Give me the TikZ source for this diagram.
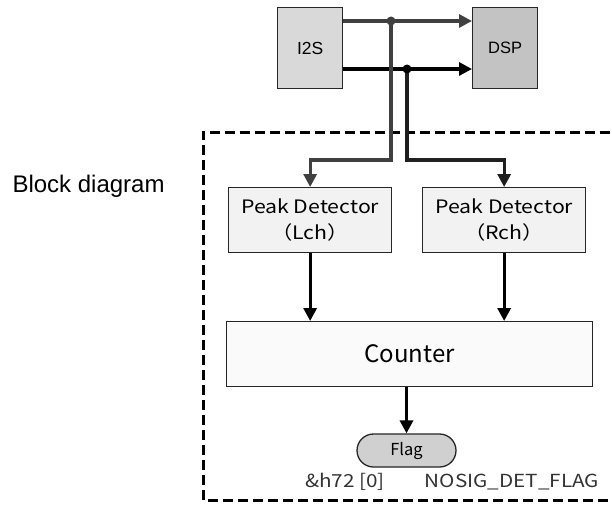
\documentclass[tikz,border=0pt]{standalone}
\usepackage{fontspec}
\setmainfont{Liberation Sans}
\newfontfamily\jpfont{Noto Sans CJK JP}
\newfontfamily\jpwide[FakeStretch=1.15]{Noto Sans CJK JP}
\usetikzlibrary{arrows.meta,shapes.misc}
\definecolor{boxline}{HTML}{262626}
\definecolor{i2sfill}{HTML}{D9D9D9}
\definecolor{dspfill}{HTML}{C3C3C3}
\definecolor{pkfill}{HTML}{F2F2F2}
\definecolor{cntfill}{HTML}{FAFAFA}
\definecolor{flagfill}{HTML}{D0D0D0}
\definecolor{graywire}{HTML}{404040}
\definecolor{txtgray}{HTML}{333333}
\tikzset{
  blk/.style={draw=boxline, line width=1.3pt, inner sep=0pt, anchor=north west},
  wire/.style={line width=3.2pt, -{Triangle[length=13pt,width=13pt]}},
  junction/.style={circle, fill, inner sep=0pt, minimum size=9pt},
}
\begin{document}
\begin{tikzpicture}[x=1pt,y=-1pt]
\useasboundingbox (0,0) rectangle (612,511);
\clip (0,0) rectangle (612,511);
% dashed frame
\draw[line width=3pt, dash pattern=on 10pt off 5pt] (640,132) -- (203,132) -- (203,500) -- (640,500);
% boxes
\node[blk, fill=i2sfill, minimum width=65pt, minimum height=81pt] (i2s) at (277,7) {};
\node[font=\fontsize{17.5}{20}\selectfont] at (i2s.center) {I2S};
\node[blk, fill=dspfill, minimum width=65pt, minimum height=81pt] (dsp) at (472,7) {};
\node[font=\fontsize{16.5}{20}\selectfont] at (dsp.center) {DSP};
\node[blk, fill=pkfill, minimum width=163pt, minimum height=65pt] (pkl) at (228,187) {};
\node[align=center, font=\jpwide\fontsize{18.5}{26}\selectfont] at (pkl.center) {Peak Detector\\（Lch）};
\node[blk, fill=pkfill, minimum width=163pt, minimum height=65pt] (pkr) at (422,187) {};
\node[align=center, font=\jpwide\fontsize{18.5}{26}\selectfont] at (pkr.center) {Peak Detector\\（Rch）};
\node[blk, fill=cntfill, minimum width=366pt, minimum height=65pt] (cnt) at (226,321) {};
\node[font=\jpfont\fontsize{24}{28}\selectfont] at (cnt.center) {Counter};
\node[draw=boxline, line width=1.3pt, fill=flagfill, rounded rectangle, minimum width=99pt, minimum height=33pt, inner sep=0pt,
      font=\jpfont\fontsize{16.5}{20}\selectfont] (flag) at (406.5,450.5) {Flag};
\node[text=txtgray, font=\jpwide\fontsize{18}{22}\selectfont] (addr) at (345,482) {\&h72 [0]};
\node[text=txtgray, font=\jpwide\fontsize{18}{22}\selectfont] (fname) at (512,482) {NOSIG\_DET\_FLAG};
\node[anchor=west, font=\fontsize{24}{28}\selectfont] (title) at (9,186) {Block diagram};
% coordinates
\coordinate (jL) at (391,21);
\coordinate (jR) at (407,69);
\coordinate (bL) at (391,160);
\coordinate (bR) at (407,160);
% I2S -> DSP
\draw[wire, graywire] (i2s.east |- jL) -- (dsp.west |- jL);
\draw[wire, black] (i2s.east |- jR) -- (dsp.west |- jR);
% taps
\draw[wire, graywire] (jL) -- (bL) -| (pkl.north);
\draw[wire, black!88] (jR) -- (bR) -| (pkr.north);
\node[junction, graywire] at (jL) {};
\node[junction, black] at (jR) {};
% to counter
\draw[wire] (pkl.south) -- (pkl.south |- cnt.north);
\draw[wire] (pkr.south) -- (pkr.south |- cnt.north);
\draw[wire] (cnt.south -| flag.north) -- (flag.north);
\end{tikzpicture}
\end{document}
